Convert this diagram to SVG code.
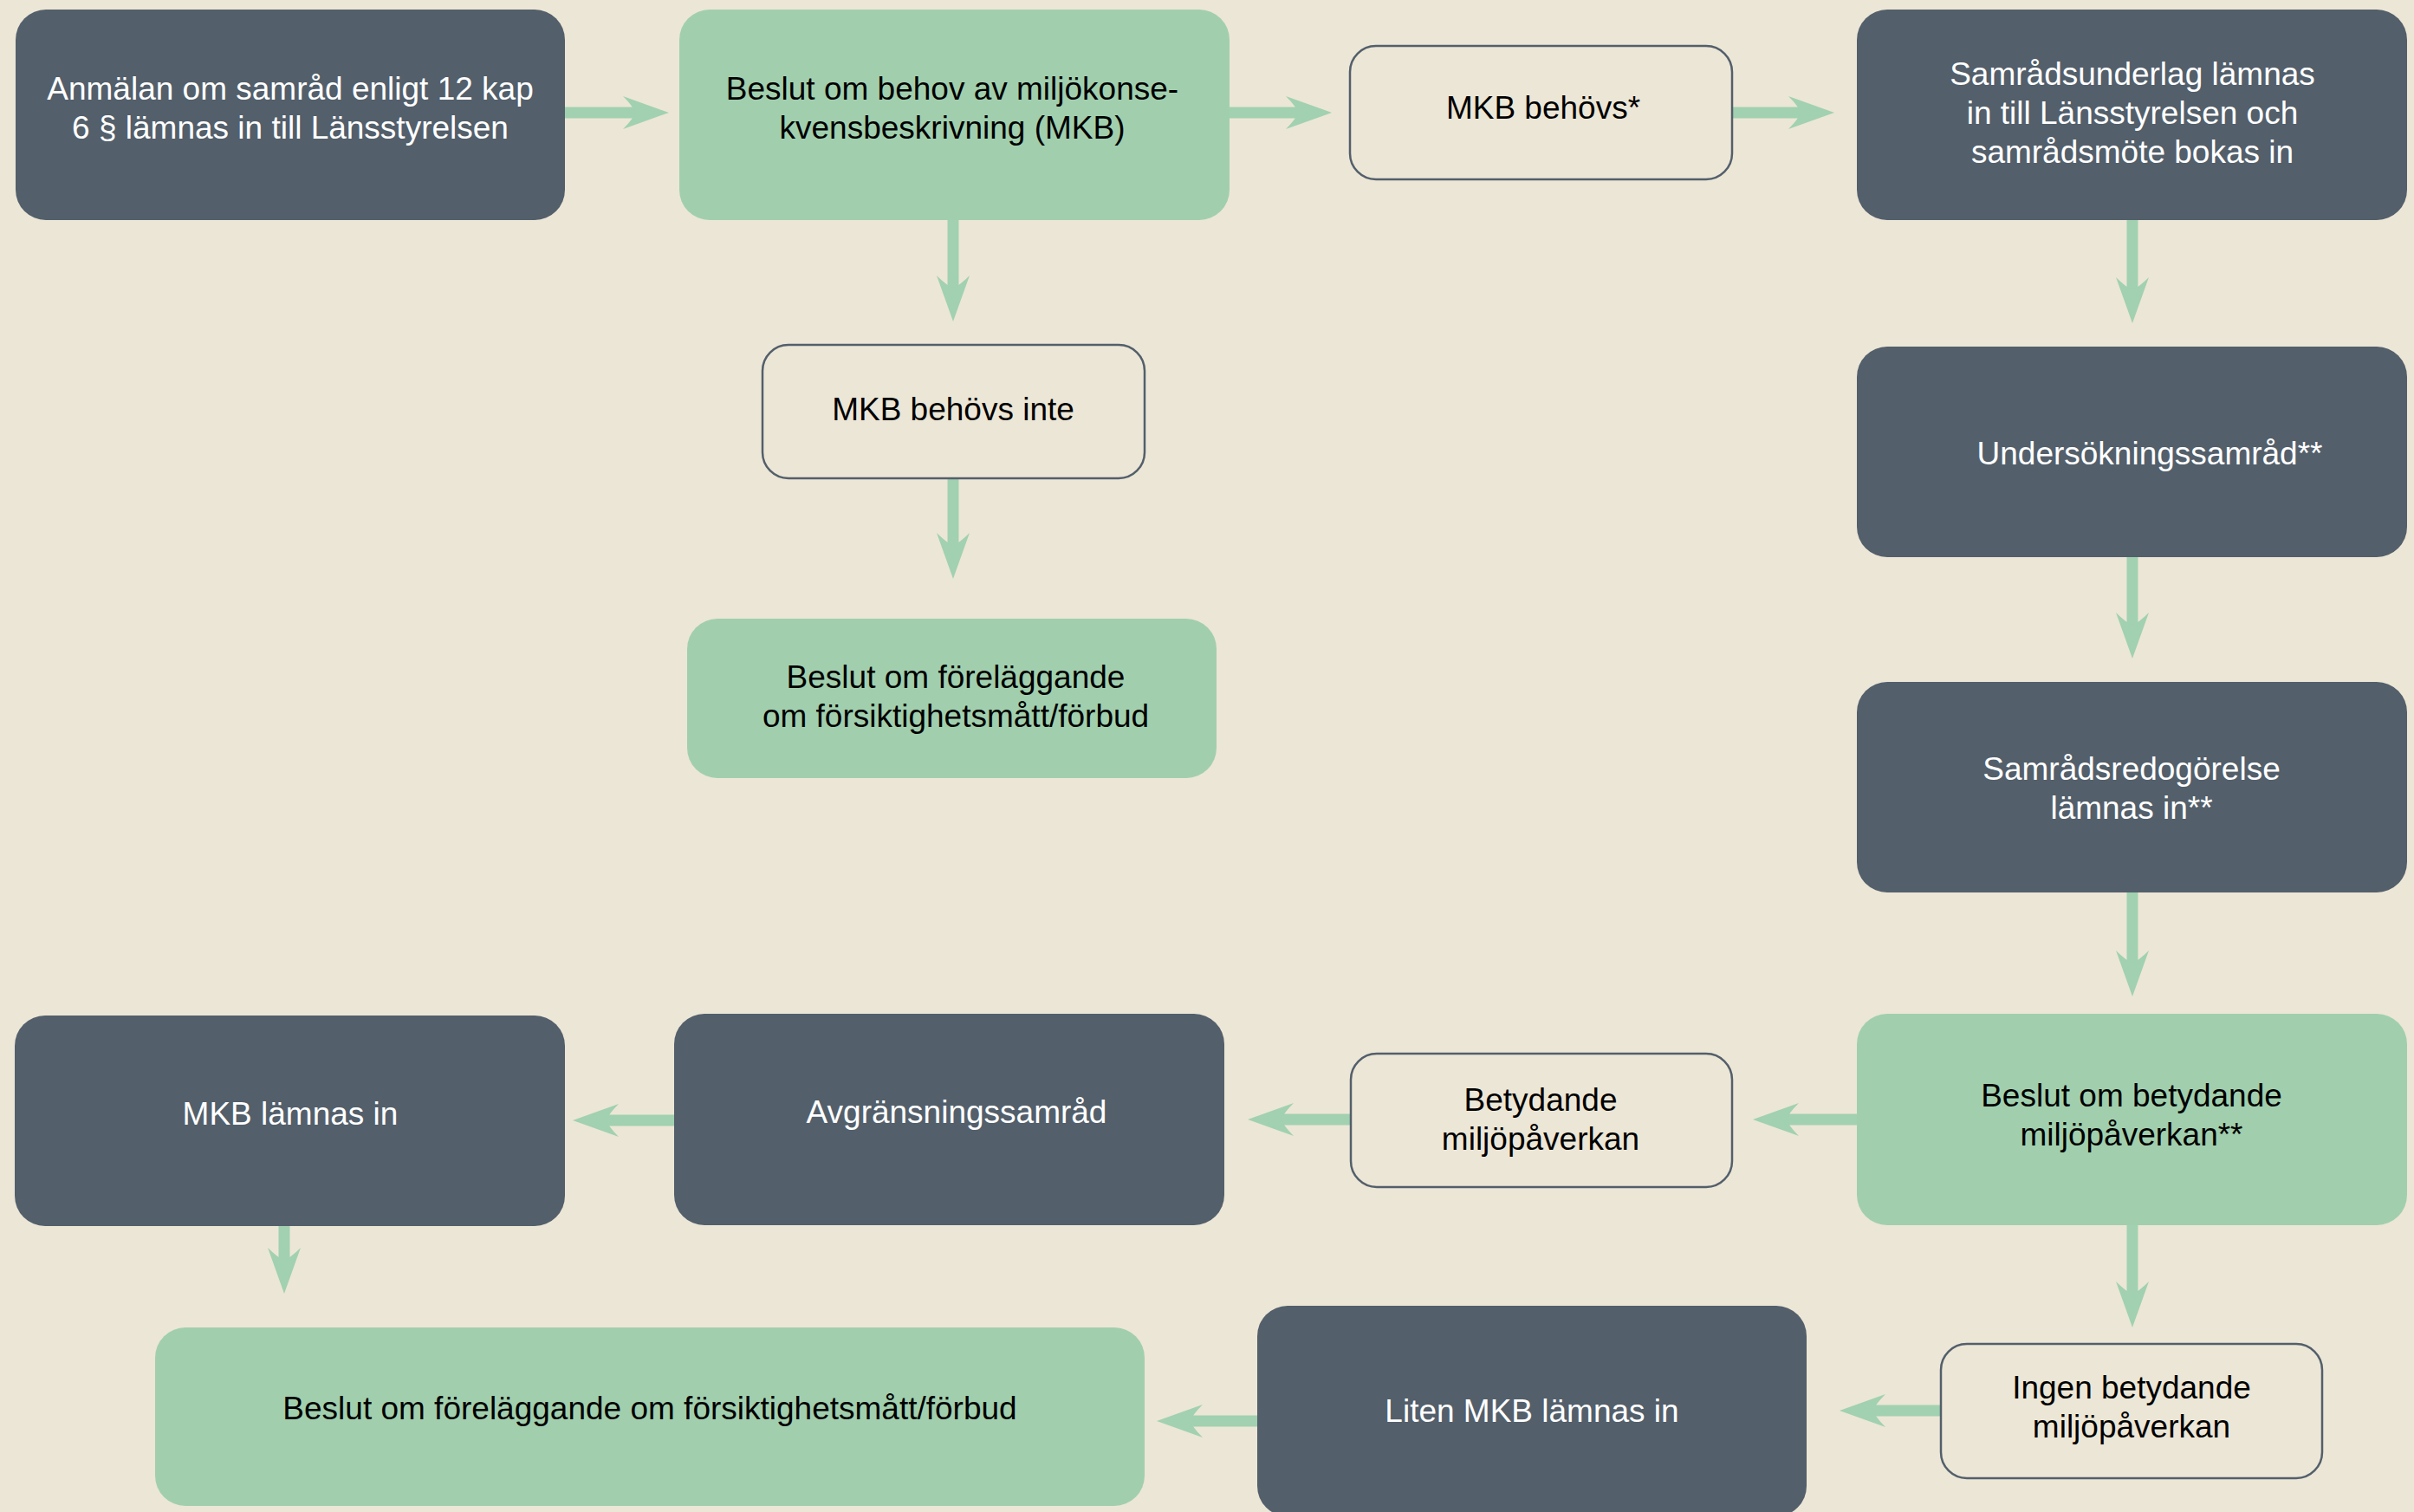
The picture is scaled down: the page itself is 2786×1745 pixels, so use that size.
<svg xmlns="http://www.w3.org/2000/svg" width="2786" height="1745" viewBox="0 0 2786 1745">
<defs>
<style>
.bg{fill:#ECE6D6}
.dark{fill:#535F6B}
.green{fill:#A1CFAE}
.outline{fill:#ECE6D6;stroke:#535F6B;stroke-width:2.5}
text{font-family:"Liberation Sans",Arial,sans-serif;font-size:37px;text-anchor:middle}
.tw{fill:#FFFFFF}
.tb{fill:#000000}
.conn{stroke:#A1D1B0;stroke-width:13;fill:none;marker-end:url(#ah)}
</style>
<marker id="ah" markerUnits="userSpaceOnUse" markerWidth="60" markerHeight="40" viewBox="0 0 60 40" refX="23" refY="20" orient="auto">
<path d="M53,20 L0,1 Q12,13 14,20 Q12,27 0,39 Z" fill="#A1D1B0"/>
</marker>
</defs>
<rect class="bg" x="0" y="0" width="2786" height="1745"/>
<g id="connectors">
<path class="conn" d="M652,130 H742"/>
<path class="conn" d="M1419,130 H1507"/>
<path class="conn" d="M1999,130 H2087"/>
<path class="conn" d="M1100,254 V341"/>
<path class="conn" d="M1100,552 V638"/>
<path class="conn" d="M2461,254 V343"/>
<path class="conn" d="M2461,643 V730"/>
<path class="conn" d="M2461,1030 V1120"/>
<path class="conn" d="M2143,1292 H2053"/>
<path class="conn" d="M1559,1292 H1470"/>
<path class="conn" d="M778,1293 H691"/>
<path class="conn" d="M328,1415 V1463"/>
<path class="conn" d="M2461,1414 V1502"/>
<path class="conn" d="M2240,1628 H2153"/>
<path class="conn" d="M1451,1640 H1365"/>
</g>
<g id="n1">
<rect class="dark" x="18" y="11" width="634" height="243" rx="35"/>
<text class="tw" x="335" y="115">Anmälan om samråd enligt 12 kap</text>
<text class="tw" x="335" y="160">6 § lämnas in till Länsstyrelsen</text>
</g>
<g id="n2">
<rect class="green" x="784" y="11" width="635" height="243" rx="35"/>
<text class="tb" x="1099" y="115">Beslut om behov av miljökonse-</text>
<text class="tb" x="1099" y="160">kvensbeskrivning (MKB)</text>
</g>
<g id="n3">
<rect class="outline" x="1558" y="53" width="441" height="154" rx="30"/>
<text class="tb" x="1781" y="137">MKB behövs*</text>
</g>
<g id="n4">
<rect class="dark" x="2143" y="11" width="635" height="243" rx="35"/>
<text class="tw" x="2461" y="98">Samrådsunderlag lämnas</text>
<text class="tw" x="2461" y="143">in till Länsstyrelsen och</text>
<text class="tw" x="2461" y="188">samrådsmöte bokas in</text>
</g>
<g id="n5">
<rect class="outline" x="880" y="398" width="441" height="154" rx="30"/>
<text class="tb" x="1100" y="485">MKB behövs inte</text>
</g>
<g id="n6">
<rect class="dark" x="2143" y="400" width="635" height="243" rx="35"/>
<text class="tw" x="2481" y="536">Undersökningssamråd**</text>
</g>
<g id="n7">
<rect class="green" x="793" y="714" width="611" height="184" rx="35"/>
<text class="tb" x="1103" y="794">Beslut om föreläggande</text>
<text class="tb" x="1103" y="839">om försiktighetsmått/förbud</text>
</g>
<g id="n8">
<rect class="dark" x="2143" y="787" width="635" height="243" rx="35"/>
<text class="tw" x="2460" y="900">Samrådsredogörelse</text>
<text class="tw" x="2460" y="945">lämnas in**</text>
</g>
<g id="n9">
<rect class="green" x="2143" y="1170" width="635" height="244" rx="35"/>
<text class="tb" x="2460" y="1277">Beslut om betydande</text>
<text class="tb" x="2460" y="1322">miljöpåverkan**</text>
</g>
<g id="n10">
<rect class="outline" x="1559" y="1216" width="440" height="154" rx="30"/>
<text class="tb" x="1778" y="1282">Betydande</text>
<text class="tb" x="1778" y="1327">miljöpåverkan</text>
</g>
<g id="n11">
<rect class="dark" x="778" y="1170" width="635" height="244" rx="35"/>
<text class="tw" x="1104" y="1296">Avgränsningssamråd</text>
</g>
<g id="n12">
<rect class="dark" x="17" y="1172" width="635" height="243" rx="35"/>
<text class="tw" x="335" y="1298">MKB lämnas in</text>
</g>
<g id="n13">
<rect class="outline" x="2240" y="1551" width="440" height="155" rx="30"/>
<text class="tb" x="2460" y="1614">Ingen betydande</text>
<text class="tb" x="2460" y="1659">miljöpåverkan</text>
</g>
<g id="n14">
<rect class="dark" x="1451" y="1507" width="634" height="243" rx="35"/>
<text class="tw" x="1768" y="1641">Liten MKB lämnas in</text>
</g>
<g id="n15">
<rect class="green" x="179" y="1532" width="1142" height="206" rx="35"/>
<text class="tb" x="750" y="1638">Beslut om föreläggande om försiktighetsmått/förbud</text>
</g>
</svg>
